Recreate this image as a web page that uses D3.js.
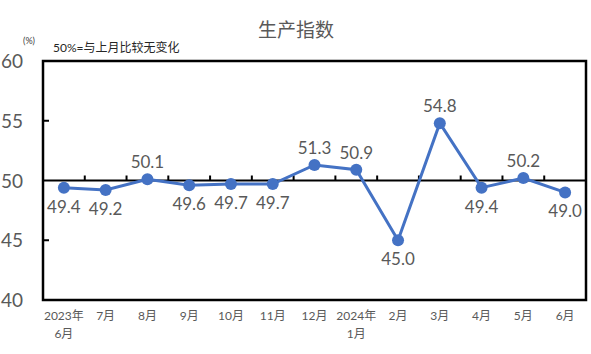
<!DOCTYPE html>
<html>
<head>
<meta charset="utf-8">
<script src="https://cdn.jsdelivr.net/npm/d3@7"></script>
<style>
  body { margin: 0; background: #fff; }
  text { font-family: Lato, "Noto Sans CJK SC", sans-serif; }
</style>
</head>
<body>
<div id="root"></div>
<script>
const months = ['2023年\n6月', '7月', '8月', '9月', '10月', '11月', '12月', '2024年\n1月', '2月', '3月', '4月', '5月', '6月'];
const values = [49.4, 49.2, 50.1, 49.6, 49.7, 49.7, 51.3, 50.9, 45.0, 54.8, 49.4, 50.2, 49.0];
const yTicks = [40, 45, 50, 55, 60];
const title = '生产指数';
const note = '50%=与上月比较无变化';

const width = 591, height = 354;
const margin = ({top: 61, right: 5, bottom: 54, left: 43});

const svg = d3.select('#root').append('svg')
  .attr('width', width).attr('height', height);

const x = d3.scaleBand().domain(d3.range(months.length))
  .range([margin.left, width - margin.right]);
const y = d3.scaleLinear().domain([40, 60])
  .range([height - margin.bottom, margin.top]);

// title + notes
svg.append('text').attr('x', 296).attr('y', 37).attr('text-anchor', 'middle')
  .attr('font-size', 19).attr('fill', '#595959').text(title);
svg.append('text').attr('x', 23).attr('y', 44).attr('font-size', 9).attr('fill', '#404040').text('(%)');
svg.append('text').attr('x', 53).attr('y', 52).attr('font-size', 12).attr('fill', '#262626').text(note);

// y labels
svg.append('g').selectAll('text').data(yTicks).enter().append('text')
  .attr('x', 23).attr('y', d => y(d) + 7).attr('text-anchor', 'end')
  .attr('font-size', 19).attr('fill', '#595959').text(d => d);

// left ticks inward
svg.append('g').selectAll('line').data([45, 55]).enter().append('line')
  .attr('x1', margin.left).attr('x2', margin.left + 6)
  .attr('y1', d => y(d)).attr('y2', d => y(d))
  .attr('stroke', '#000').attr('stroke-width', 2);

// baseline at 50 with upward ticks
svg.append('line').attr('x1', margin.left).attr('x2', width - margin.right)
  .attr('y1', y(50)).attr('y2', y(50)).attr('stroke', '#000').attr('stroke-width', 2);
svg.append('g').selectAll('line').data(d3.range(1, months.length)).enter().append('line')
  .attr('x1', d => x(d)).attr('x2', d => x(d))
  .attr('y1', y(50)).attr('y2', y(50) - 5)
  .attr('stroke', '#000').attr('stroke-width', 2);

// frame
svg.append('rect').attr('x', margin.left).attr('y', margin.top)
  .attr('width', width - margin.left - margin.right)
  .attr('height', height - margin.top - margin.bottom)
  .attr('fill', 'none').attr('stroke', '#000').attr('stroke-width', 2.5);

// x labels
const xl = svg.append('g').selectAll('text').data(months).enter().append('text')
  .attr('x', (d, i) => x(i) + x.bandwidth() / 2).attr('y', 320)
  .attr('text-anchor', 'middle').attr('font-size', 12).attr('fill', '#595959');
xl.each(function(d) {
  const parts = d.split('\n');
  const t = d3.select(this);
  parts.forEach((p, k) => {
    t.append('tspan').attr('x', t.attr('x')).attr('dy', k ? 18 : 0).text(p);
  });
});

const cx = (d, i) => x(i) + x.bandwidth() / 2;

// line
svg.append('path').datum(values)
  .attr('d', d3.line().x(cx).y(d => y(d)))
  .attr('fill', 'none').attr('stroke', '#4472C4').attr('stroke-width', 3);

svg.append('g').selectAll('circle').data(values).enter().append('circle')
  .attr('cx', cx).attr('cy', d => y(d)).attr('r', 6).attr('fill', '#4472C4');

// value labels
svg.append('g').selectAll('text').data(values).enter().append('text')
  .attr('x', cx)
  .attr('y', d => d >= 50 ? y(d) - 11 : y(d) + 25)
  .attr('text-anchor', 'middle').attr('font-size', 17).attr('fill', '#595959')
  .text(d => d.toFixed(1));
</script>
</body>
</html>
